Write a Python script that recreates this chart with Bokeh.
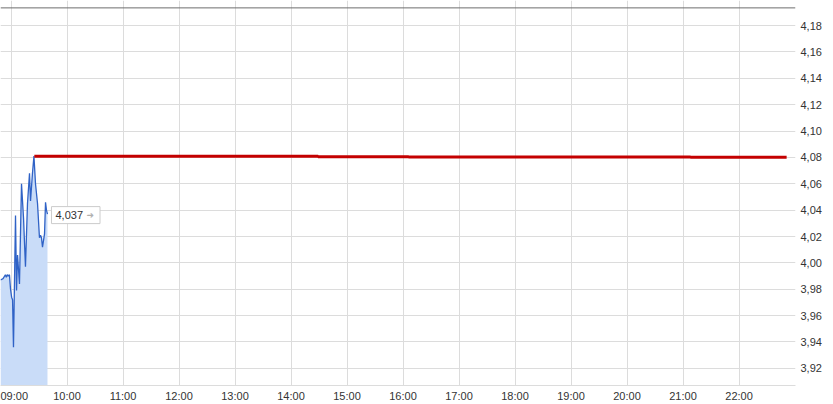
import pandas as pd
from bokeh.embed import file_html
from bokeh.models import (ColumnDataSource, CustomJSTickFormatter, DatetimeTickFormatter,
                          FixedTicker, Label, Span)
from bokeh.plotting import figure
from bokeh.resources import INLINE

DAY = "2024-01-01 "

# intraday trades (blue line)
TRADE_TIMES = [
    "08:48:45", "08:51:30", "08:54:00", "08:55:00", "08:56:00", "08:57:00", "08:58:20",
    "08:59:30", "09:00:40", "09:01:40", "09:02:40", "09:04:50", "09:05:55", "09:07:00",
    "09:09:05", "09:11:15", "09:13:25", "09:15:30", "09:17:40", "09:19:50", "09:20:55",
    "09:23:00", "09:24:35", "09:26:15", "09:28:25", "09:30:30", "09:31:35", "09:32:40",
    "09:33:45", "09:35:55", "09:37:00", "09:38:00", "09:39:05",
]
TRADE_PRICES = [
    3.987, 3.988, 3.991, 3.989, 3.991, 3.990, 3.991,
    3.980, 3.974, 3.972, 3.936, 4.036, 3.979, 4.006,
    3.984, 4.060, 4.034, 3.997, 4.045, 4.068, 4.047,
    4.068, 4.081, 4.060, 4.045, 4.019, 4.021, 4.019,
    4.012, 4.022, 4.046, 4.040, 4.037,
]

# reference level (red line)
REF_TIMES = ["09:25:00", "14:29:00", "16:06:00", "21:08:00", "22:51:00"]
REF_PRICES = [4.0809, 4.0805, 4.0803, 4.0801, 4.0801]

HOUR_TICKS = ["09:00", "10:00", "11:00", "12:00", "13:00", "14:00", "15:00",
              "16:00", "17:00", "18:00", "19:00", "20:00", "21:00", "22:00"]
PRICE_TICKS = [3.92, 3.94, 3.96, 3.98, 4.00, 4.02, 4.04, 4.06, 4.08,
               4.10, 4.12, 4.14, 4.16, 4.18]

X_START, X_END = "08:48:45", "23:00:30"
Y_LOW, Y_HIGH = 3.907, 4.199
TOP_LINE = 4.1934

FONT = "Liberation Sans"


def ts(hms):
    return pd.Timestamp(DAY + hms)


def ms(hms):
    return ts(hms).value / 1e6


trades = ColumnDataSource(dict(
    t=[ts(s) for s in TRADE_TIMES],
    price=TRADE_PRICES,
    low=[Y_LOW] * len(TRADE_PRICES),
))
ref = ColumnDataSource(dict(t=[ts(s) for s in REF_TIMES], price=REF_PRICES))

p = figure(
    frame_width=795, frame_height=385,
    x_axis_type="datetime", y_axis_location="right",
    x_range=(ts(X_START), ts(X_END)), y_range=(Y_LOW, Y_HIGH),
    toolbar_location=None, output_backend="svg",
    min_border_left=0, min_border_top=0, min_border_right=38, min_border_bottom=19,
)
p.outline_line_color = None
p.background_fill_color = "white"
p.border_fill_color = "white"

# grid
p.xgrid.ticker = FixedTicker(ticks=[ms(h + ":00") for h in HOUR_TICKS])
p.ygrid.ticker = FixedTicker(ticks=PRICE_TICKS)
p.grid.grid_line_color = "#dcdcdc"
p.grid.grid_line_width = 1

# axes
p.xaxis.ticker = FixedTicker(ticks=[ms(h + ":00") for h in HOUR_TICKS])
p.xaxis.formatter = DatetimeTickFormatter(hours="%H:%M", minutes="%H:%M", hourmin="%H:%M")
p.yaxis.ticker = FixedTicker(ticks=PRICE_TICKS)
p.yaxis.formatter = CustomJSTickFormatter(code="return tick.toFixed(2).replace('.', ',');")
for ax in (p.xaxis, p.yaxis):
    ax.major_tick_line_color = None
    ax.minor_tick_line_color = None
    ax.major_tick_out = 0
    ax.major_label_text_font = FONT
    ax.major_label_text_font_size = "11px"
    ax.major_label_text_color = "#333333"
p.xaxis.axis_line_color = "#dcdcdc"
p.yaxis.axis_line_color = None
p.xaxis.major_label_standoff = 4
p.yaxis.major_label_standoff = 5

# top border line
p.add_layout(Span(location=TOP_LINE, dimension="width", line_color="#6e6e6e", line_width=1))

# trades area + line
p.varea(x="t", y1="low", y2="price", source=trades, fill_color="#c9dcf8", fill_alpha=1.0)
p.line(x="t", y="price", source=trades, line_color="#2f62c6", line_width=1.3)

# reference level
p.step(x="t", y="price", source=ref, mode="after", line_color="#c40000", line_width=3)

# last price tag
last_t = ts(TRADE_TIMES[-1])
last_p = TRADE_PRICES[-1]
p.add_layout(Label(
    x=last_t, y=last_p, x_offset=4, y_offset=-1,
    text=f"{last_p:.3f}".replace(".", ","),
    text_font=FONT, text_font_size="11px", text_color="#333333",
    text_baseline="middle", text_align="left",
    background_fill_color="white", border_line_color="#cccccc", border_line_width=1,
    padding=(4, 17, 4, 5),
))
p.add_layout(Label(
    x=last_t, y=last_p, x_offset=39, y_offset=-1,
    text="\u279c",
    text_font="DejaVu Sans", text_font_size="9px", text_color="#b0b0b0",
    text_baseline="middle", text_align="left",
))

open("out.html", "w").write(file_html(p, INLINE))
